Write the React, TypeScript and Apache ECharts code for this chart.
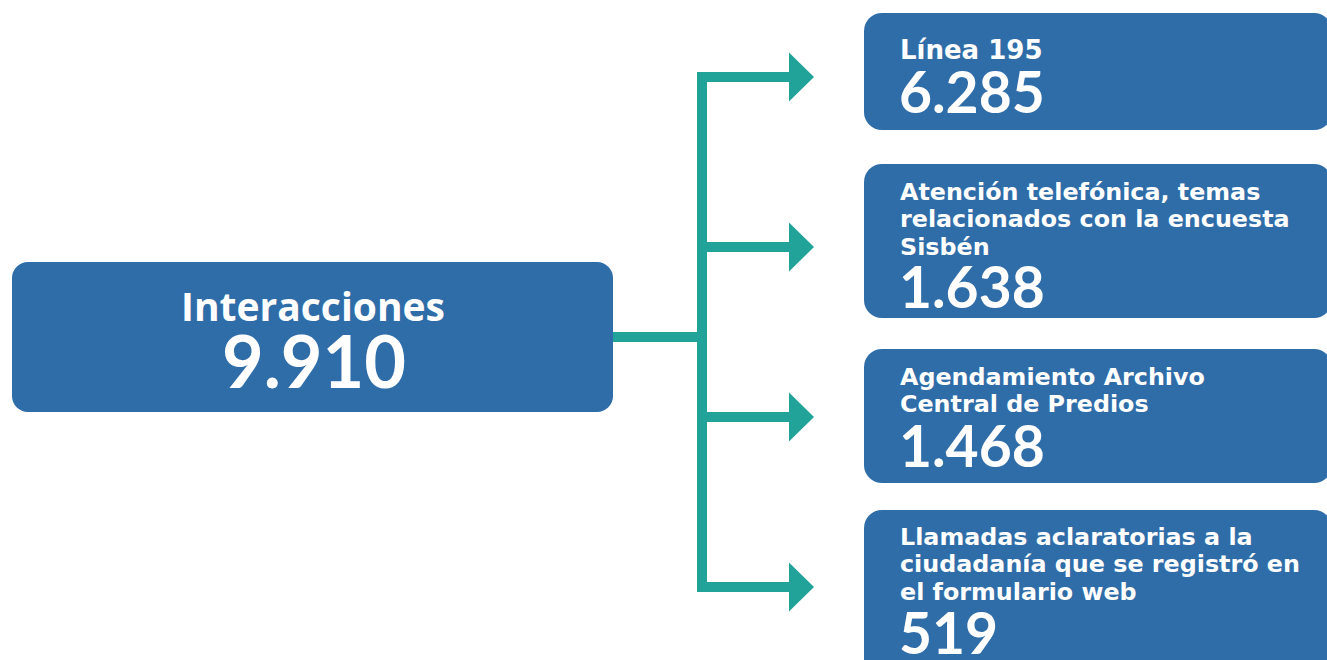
import React, { useEffect, useRef } from "react";
import * as echarts from "echarts";

// ---- data ----
const totalLabel = "Interacciones";
const totalValue = 9910;
const categories = [
  "Línea 195",
  "Atención telefónica, temas\nrelacionados con la encuesta\nSisbén",
  "Agendamiento Archivo\nCentral de Predios",
  "Llamadas aclaratorias a la\nciudadanía que se registró en\nel formulario web",
];
const values = [6285, 1638, 1468, 519];

// ---- layout (positions / styles) ----
const W = 1327;
const H = 660;
const BLUE = "#2f6da9";
const TEAL = "#21a399";
const NUM_FONT = "Lato, 'Open Sans', sans-serif";
const LABEL_FONT = "'DejaVu Sans', Verdana, sans-serif";
const TITLE_FONT = "'Open Sans', 'Noto Sans', sans-serif";
const boxTops = [13, 164, 349, 510];
const boxBottoms = [130, 318, 483, 690];
const branchY = [77, 247, 417, 587];
const labelFont = [26, 23.8, 23.8, 23.8];
const labelBaseline0 = [59, 200, 385, 545];
const numberBaseline = [112, 307, 466, 653];

const fmt = (v: number) => String(v).replace(/\B(?=(\d{3})+(?!\d))/g, ".");

function txt(
  text: string,
  x: number,
  baseline: number,
  size: number,
  family: string,
  k: number,
  align = "left"
) {
  return {
    type: "text",
    x,
    y: baseline - size * k,
    silent: true,
    style: {
      text,
      fill: "#ffffff",
      font: `bold ${size}px ${family}`,
      fontFamily: family,
      fontSize: size,
      fontWeight: "bold",
      align,
      verticalAlign: "middle",
      textAlign: align,
      textVerticalAlign: "middle",
    },
  };
}

export default function App() {
  const ref = useRef<HTMLDivElement>(null);
  useEffect(() => {
    document.body.style.margin = "0";
    if (!ref.current) return;
    const chart = echarts.init(ref.current, null, { renderer: "svg" });
    const els: any[] = [];
    // main box
    els.push({
      type: "rect",
      shape: { x: 12, y: 262, width: 601, height: 150, r: 16 },
      style: { fill: BLUE },
    });
    els.push(txt(totalLabel, 313, 321, 39, TITLE_FONT, 0.39, "center"));
    els.push(txt(fmt(totalValue), 314, 387, 72, NUM_FONT, 0.37, "center"));
    // connectors
    els.push({ type: "rect", shape: { x: 613, y: 332, width: 94, height: 10 }, style: { fill: TEAL } });
    els.push({
      type: "rect",
      shape: { x: 697, y: branchY[0] - 5, width: 10, height: branchY[branchY.length - 1] - branchY[0] + 10 },
      style: { fill: TEAL },
    });
    categories.forEach((cat, i) => {
      const c = branchY[i];
      els.push({ type: "rect", shape: { x: 697, y: c - 5, width: 94, height: 10 }, style: { fill: TEAL } });
      els.push({
        type: "polygon",
        shape: { points: [[789, c - 24.5], [814, c], [789, c + 24.5]] },
        style: { fill: TEAL },
      });
      els.push({
        type: "rect",
        shape: { x: 864, y: boxTops[i], width: 468, height: boxBottoms[i] - boxTops[i], r: 18 },
        style: { fill: BLUE },
      });
      const lines = cat.split("\n");
      lines.forEach((ln, j) => {
        els.push(txt(ln, 900, labelBaseline0[i] + j * 27.5, labelFont[i], LABEL_FONT, 0.35));
      });
      els.push(txt(fmt(values[i]), 899, numberBaseline[i], 57, NUM_FONT, 0.37));
    });
    chart.setOption({ animation: false, graphic: { elements: els } });
    return () => chart.dispose();
  }, []);
  return <div ref={ref} style={{ width: W, height: H }} />;
}
